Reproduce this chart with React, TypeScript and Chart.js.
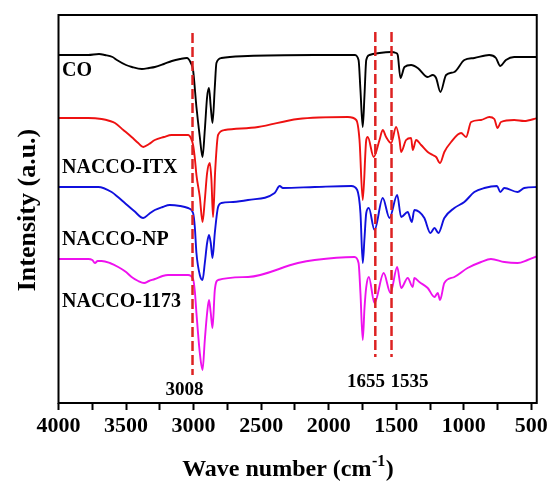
import React, { useEffect, useRef } from 'react';
import { Chart, registerables } from 'chart.js';
Chart.register(...registerables);

// ---- data (wave number in cm^-1, intensity in a.u.) ----
const coWave = [4000, 3780, 3700, 3656, 3600, 3568, 3500, 3457, 3383, 3330, 3287, 3220, 3161, 3100, 3050, 3020, 3004, 2979, 2954, 2934, 2917, 2900, 2886, 2873, 2860, 2843, 2831, 2794, 2600, 2104, 1809, 1779, 1765, 1748, 1735, 1722, 1698, 1624, 1538, 1501, 1489, 1469, 1439, 1390, 1341, 1267, 1230, 1205, 1173, 1131, 1070, 996, 922, 812, 762, 730, 688, 627, 528, 454];
const coInt = [348, 348, 349, 348, 346, 343, 338, 336, 334, 335, 336, 339, 342, 344, 345, 340, 333, 296, 266, 246, 273, 306, 315, 296, 280, 316, 340, 345, 347, 348, 348, 343, 313, 276, 308, 343, 348, 350, 351, 350, 348, 325, 336, 338, 335, 326, 328, 325, 311, 328, 331, 343, 345, 348, 345, 337, 343, 346, 346, 346];

const itxWave = [4000, 3780, 3681, 3620, 3582, 3520, 3459, 3410, 3373, 3330, 3287, 3220, 3163, 3041, 3020, 3004, 2991, 2979, 2954, 2934, 2917, 2900, 2880, 2868, 2856, 2840, 2819, 2769, 2523, 2228, 1858, 1796, 1772, 1748, 1722, 1711, 1667, 1624, 1600, 1575, 1538, 1501, 1476, 1464, 1427, 1390, 1378, 1353, 1316, 1267, 1230, 1205, 1176, 1144, 1094, 1020, 983, 946, 872, 811, 774, 750, 725, 627, 553, 454];
const itxInt = [285, 285, 284, 282, 280, 273, 266, 260, 256, 259, 263, 266, 268, 268, 265, 258, 245, 228, 206, 181, 203, 230, 240, 223, 186, 233, 268, 273, 276, 284, 286, 283, 263, 203, 263, 266, 246, 263, 273, 266, 260, 276, 263, 251, 263, 265, 253, 263, 258, 251, 248, 246, 240, 251, 261, 270, 266, 281, 283, 286, 284, 275, 281, 283, 282, 285];

const npWave = [4000, 3780, 3706, 3607, 3560, 3509, 3440, 3373, 3330, 3287, 3230, 3176, 3100, 3041, 3004, 2991, 2979, 2954, 2934, 2917, 2900, 2886, 2873, 2860, 2843, 2819, 2794, 2708, 2597, 2400, 2363, 2339, 2104, 1833, 1789, 1765, 1748, 1735, 1722, 1703, 1661, 1600, 1550, 1493, 1464, 1415, 1385, 1366, 1329, 1292, 1247, 1217, 1188, 1144, 1070, 996, 922, 848, 754, 730, 700, 602, 553, 454];
const npInt = [216, 216, 216, 211, 206, 200, 192, 185, 189, 193, 196, 198, 197, 195, 190, 176, 150, 128, 123, 140, 160, 168, 160, 145, 170, 196, 200, 201, 203, 210, 217, 215, 216, 217, 213, 190, 140, 165, 190, 195, 173, 205, 185, 208, 186, 191, 181, 193, 191, 185, 170, 175, 170, 185, 195, 201, 211, 215, 217, 211, 215, 211, 215, 216];

const n1173Wave = [4000, 3780, 3750, 3730, 3710, 3681, 3620, 3558, 3500, 3459, 3410, 3366, 3330, 3287, 3230, 3189, 3041, 3004, 2991, 2979, 2954, 2934, 2917, 2900, 2886, 2873, 2860, 2843, 2819, 2597, 2228, 2104, 1809, 1779, 1765, 1748, 1735, 1722, 1703, 1661, 1593, 1543, 1493, 1464, 1415, 1378, 1366, 1329, 1267, 1217, 1193, 1176, 1144, 1070, 972, 872, 799, 700, 602, 528, 454];
const n1173Int = [144, 144, 143, 140, 142, 142, 140, 136, 131, 126, 122, 120, 122, 124, 127, 128, 128, 124, 112, 90, 50, 33, 63, 90, 103, 90, 75, 113, 123, 126, 140, 143, 146, 140, 110, 63, 95, 116, 126, 100, 130, 110, 136, 115, 125, 116, 125, 121, 115, 106, 110, 103, 120, 126, 135, 141, 144, 141, 140, 143, 147];

const seriesNames = ['CO', 'NACCO-ITX', 'NACCO-NP', 'NACCO-1173'];
const markerWave = [3008, 1655, 1535];
const markerLabels = ['3008', '1655', '1535'];
const markerTop = [370, 371, 371];
const markerBottom = [28, 46, 46];
const xTickValues = [4000, 3750, 3500, 3250, 3000, 2750, 2500, 2250, 2000, 1750, 1500, 1250, 1000, 750, 500];

const SERIF = '"Liberation Serif", "Times New Roman", serif';

const overlay = {
  id: 'overlay',
  afterDraw(chart: any) {
    const { ctx, chartArea: a } = chart;
    ctx.save();
    ctx.strokeStyle = '#000';
    ctx.lineWidth = 2;
    ctx.strokeRect(a.left, a.top, a.right - a.left, a.bottom - a.top);

    // curve labels
    ctx.fillStyle = '#000';
    ctx.font = `bold 20px ${SERIF}`;
    ctx.textAlign = 'left';
    ctx.textBaseline = 'middle';
    const labelY = [71, 168, 240, 302];
    seriesNames.forEach((n, i) => ctx.fillText(n, a.left + 3.5, labelY[i]));

    // marker labels
    ctx.font = `bold 19px ${SERIF}`;
    ctx.textAlign = 'center';
    const mx = [184.5, 366, 409.5];
    const my = [390.5, 382, 382];
    markerLabels.forEach((t, i) => ctx.fillText(t, mx[i], my[i]));

    // y title
    ctx.save();
    ctx.translate(28, 210);
    ctx.rotate(-Math.PI / 2);
    ctx.font = `bold 26px ${SERIF}`;
    ctx.textAlign = 'center';
    ctx.textBaseline = 'middle';
    ctx.fillText('Intensity (a.u.)', 0, 0);
    ctx.restore();

    // x title with superscript
    const big = `bold 24px ${SERIF}`;
    const small = `bold 16px ${SERIF}`;
    ctx.textAlign = 'left';
    ctx.textBaseline = 'alphabetic';
    ctx.font = big;
    const p1 = 'Wave number (cm';
    const w1 = ctx.measureText(p1).width;
    const w3 = ctx.measureText(')').width;
    ctx.font = small;
    const w2 = ctx.measureText('-1').width;
    const total = w1 + w2 + w3 + 1;
    let x = 288 - total / 2;
    const base = 476;
    ctx.font = big;
    ctx.fillText(p1, x, base);
    x += w1 + 0.5;
    ctx.font = small;
    ctx.fillText('-1', x, base - 10);
    x += w2 + 0.5;
    ctx.font = big;
    ctx.fillText(')', x, base);
    ctx.restore();
  },
};

export default function App() {
  const ref = useRef<HTMLCanvasElement | null>(null);
  useEffect(() => {
    if (!ref.current) return;
    const mk = (w: number[], v: number[]) => w.map((x, i) => ({ x, y: v[i] }));
    const colors = ['#000000', '#ee1111', '#1010dd', '#ee11ee'];
    const curves = [
      mk(coWave, coInt),
      mk(itxWave, itxInt),
      mk(npWave, npInt),
      mk(n1173Wave, n1173Int),
    ].map((d, i) => ({
      label: seriesNames[i],
      data: d,
      borderColor: colors[i],
      borderWidth: 1.9,
      pointRadius: 0,
      cubicInterpolationMode: 'monotone',
      fill: false,
    }));
    const markers = markerWave.map((w, i) => ({
      label: 'm' + markerLabels[i],
      data: [
        { x: w, y: markerTop[i] },
        { x: w, y: markerBottom[i] },
      ],
      borderColor: '#dd2222',
      borderWidth: 2.5,
      borderDash: [10, 4],
      pointRadius: 0,
      fill: false,
    }));
    const chart = new Chart(ref.current, {
      type: 'line',
      data: { datasets: [...markers, ...curves] as any },
      options: {
        animation: false,
        responsive: false,
        maintainAspectRatio: false,
        layout: { padding: { top: 15, right: 13.5, left: 0, bottom: 0 } },
        plugins: { legend: { display: false }, tooltip: { enabled: false } },
        scales: {
          x: {
            type: 'linear',
            reverse: true,
            min: 460,
            max: 4000,
            afterBuildTicks: (s: any) => {
              s.ticks = xTickValues.map((v) => ({ value: v }));
            },
            afterFit: (s: any) => {
              s.height = 81;
            },
            grid: {
              display: true,
              drawOnChartArea: false,
              drawTicks: true,
              tickLength: 7,
              tickWidth: 2,
              tickColor: '#000',
            },
            border: { display: false },
            ticks: {
              autoSkip: false,
              maxRotation: 0,
              padding: 3,
              color: '#000',
              font: { family: SERIF, size: 22, weight: 'bold' },
              callback: (v: any) => (Number(v) % 500 === 0 ? String(v) : ''),
            },
          },
          y: {
            type: 'linear',
            min: 0,
            max: 388,
            afterFit: (s: any) => {
              s.width = 58.5;
            },
            grid: { display: false },
            border: { display: false },
            ticks: { display: false },
          },
        },
      },
      plugins: [overlay],
    });
    return () => chart.destroy();
  }, []);
  return (
    <div style={{ position: 'absolute', left: 0, top: 0, width: 551, height: 484, background: '#fff' }}>
      <canvas ref={ref} width={551} height={484} />
    </div>
  );
}
